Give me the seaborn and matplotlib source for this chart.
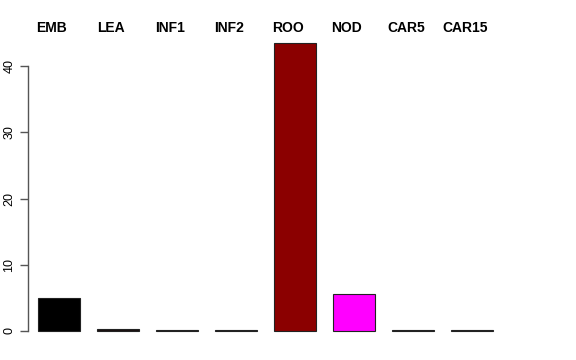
import matplotlib
matplotlib.use("Agg")
import matplotlib.pyplot as plt
import matplotlib.transforms as mtransforms
import seaborn as sns
import pandas as pd

categories = ["EMB", "LEA", "INF1", "INF2", "ROO", "NOD", "CAR5", "CAR15"]
values = [5.0, 0.25, 0.2, 0.2, 43.5, 5.6, 0.2, 0.15]
colors = ["#000000", "#1a1010", "#2f5a2f", "#1f1f50", "#8b0000", "#ff00ff", "#2a2a3c", "#8a8a8a"]
yticks = [0, 10, 20, 30, 40]

sns.set_style("white")
plt.rcParams["font.family"] = ["Liberation Sans", "DejaVu Sans"]
plt.rcParams["text.color"] = "black"
plt.rcParams["ytick.color"] = "black"

df = pd.DataFrame({"cat": categories, "val": values})

fig = plt.figure(figsize=(5.76, 3.6), dpi=100)
W, H = 576, 360
px_unit_x = 59.0
px_unit_y = 6.625
ax_left_px, ax_right_px = 28, 548
ax_top_px, ax_bot_px = 30, 340
ax = fig.add_axes([ax_left_px / W, 1 - ax_bot_px / H,
                   (ax_right_px - ax_left_px) / W, (ax_bot_px - ax_top_px) / H])

sns.barplot(data=df, x="cat", y="val", hue="cat", palette=colors, order=categories,
            hue_order=categories, legend=False, width=42 / 59, edgecolor="#222222",
            linewidth=0.8, saturation=1, ax=ax)

x0 = -(59 - ax_left_px) / px_unit_x
ax.set_xlim(x0, x0 + (ax_right_px - ax_left_px) / px_unit_x)
y0 = -(ax_bot_px - 331) / px_unit_y
ax.set_ylim(y0, y0 + (ax_bot_px - ax_top_px) / px_unit_y)

for s in ["top", "right", "bottom"]:
    ax.spines[s].set_visible(False)
ax.spines["left"].set_bounds(0, 40)
ax.spines["left"].set_color("#555555")
ax.spines["left"].set_linewidth(1.0)
ax.set_yticks(yticks)
ax.set_yticklabels([str(t) for t in yticks], rotation=90, va="center", fontsize=9,
                   color="black")
ax.tick_params(axis="y", length=6, width=1.0, color="#555555", pad=3, left=True)
ax.set_xticks([])
ax.set_xlabel("")
ax.set_ylabel("")
ax.grid(False)

trans = mtransforms.blended_transform_factory(ax.transData, fig.transFigure)
for i, c in enumerate(categories):
    ax.text(i - 0.12, 1 - 28 / H, c, transform=trans, ha="center", va="center",
            fontsize=10, fontweight="bold", color="black", clip_on=False)

fig.savefig("out.png", dpi=100)
